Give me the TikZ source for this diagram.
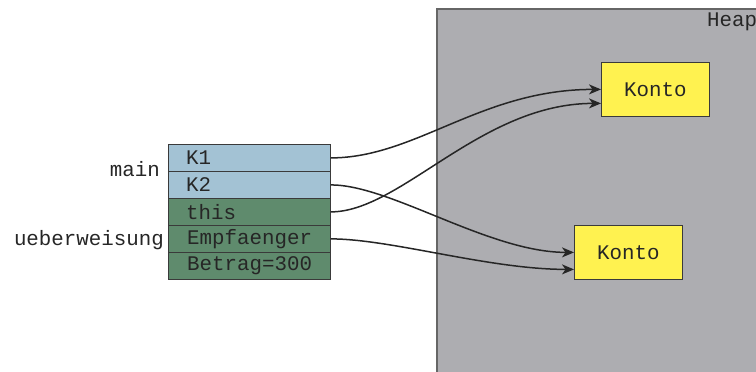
\documentclass[tikz,border=0pt]{standalone}
\usepackage{fontspec}
\setmonofont{Liberation Mono}
\usetikzlibrary{arrows.meta}
\definecolor{heapgray}{HTML}{ADADB1}
\definecolor{cellblue}{HTML}{A3C2D4}
\definecolor{cellgreen}{HTML}{5F8B6D}
\definecolor{kontoyellow}{HTML}{FFF250}
\definecolor{linegray}{HTML}{3A3A3A}
\tikzset{
  every node/.style={font=\ttfamily\fontsize{20.8}{22}\selectfont, text=black!85},
  cell/.style={draw=linegray, line width=0.8pt, minimum width=162pt, minimum height=27pt, inner sep=0pt, anchor=north west},
  celltext/.style={anchor=west, inner sep=0pt},
  konto/.style={draw=linegray, line width=0.8pt, fill=kontoyellow, minimum width=108pt, minimum height=54pt, inner sep=0pt, anchor=north west},
  ref/.style={draw=black!85, line width=1.5pt, -{Stealth[length=12pt,width=10pt,inset=3.5pt]}},
}
\begin{document}
\begin{tikzpicture}[x=1pt,y=-1pt]
\useasboundingbox (0,0) rectangle (756,372);
\clip (0,0) rectangle (756,372);
% heap
\fill[heapgray] (437,9) rectangle (800,400);
\draw[draw=gray!80!black, line width=1.2pt] (437,400) -- (437,9) -- (800,9);
\node[anchor=north west, inner sep=0pt] (heap) at (707,13) {Heap};
% konten
\node[konto] (k1obj) at (601,62) {Konto};
\node[konto] (k2obj) at (574,225) {Konto};
% stack cells
\node[cell, fill=cellblue] (k1) at (168,144) {};
\node[cell, fill=cellblue] (k2) at (168,171) {};
\node[cell, fill=cellgreen] (this) at (168,198) {};
\node[cell, fill=cellgreen] (empf) at (168,225) {};
\node[cell, fill=cellgreen] (betrag) at (168,252) {};
\node[celltext] at ([xshift=18pt]k1.west) {K1};
\node[celltext] at ([xshift=18pt]k2.west) {K2};
\node[celltext] at ([xshift=18pt]this.west) {this};
\node[celltext] at ([xshift=19pt]empf.west) {Empfaenger};
\node[celltext] at ([xshift=19pt]betrag.west) {Betrag=300};
% labels
\node[anchor=east, inner sep=0pt] (mainlbl) at (160,169) {main};
\node[anchor=east, inner sep=0pt] (ueblbl) at (164,240) {ueberweisung};
% coordinates (y axis points down, so a negative yshift moves down)
\coordinate (k1a) at ([yshift=0pt]k1obj.west);
\coordinate (k1b) at ([yshift=-14pt]k1obj.west);
\coordinate (k2a) at ([yshift=0pt]k2obj.west);
\coordinate (k2b) at ([yshift=-17pt]k2obj.west);
% references
\draw[ref] (k1.east) .. controls +(85,0) and +(-120,0) .. (k1a);
\draw[ref] (this.east) .. controls +(70,0) and +(-120,0) .. (k1b);
\draw[ref] (k2.east) .. controls +(60,0) and +(-85,0) .. (k2a);
\draw[ref] (empf.east) .. controls +(60,0) and +(-85,0) .. (k2b);
\end{tikzpicture}
\end{document}
